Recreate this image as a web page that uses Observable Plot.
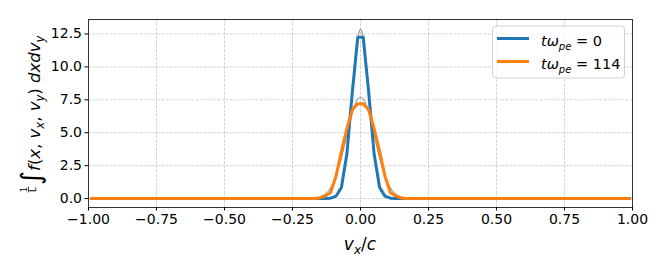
<!DOCTYPE html>
<html><head><meta charset="utf-8">
<script src="https://cdn.jsdelivr.net/npm/d3@7"></script>
<script src="https://cdn.jsdelivr.net/npm/@observablehq/plot@0.6"></script>
<style>body{margin:0;background:#fff} svg{font-family:"DejaVu Sans"}</style>
</head><body><div id="chart"></div>
<script>
const xTicks = [-1, -0.75, -0.5, -0.25, 0, 0.25, 0.5, 0.75, 1];
const xTickLabels = ["−1.00", "−0.75", "−0.50", "−0.25", "0.00", "0.25", "0.50", "0.75", "1.00"];
const yTicks = [0, 2.5, 5, 7.5, 10, 12.5];
const yTickLabels = ["0.0", "2.5", "5.0", "7.5", "10.0", "12.5"];

const seriesNames = ["0", "114"];
const seriesColors = ["#1f77b4", "#ff7f0e"];

const vxBlue = [-0.99, -0.13, -0.11, -0.09, -0.07, -0.05, -0.03, -0.01, 0.01, 0.03, 0.05, 0.07, 0.09, 0.11, 0.13, 0.99];
const fBlue  = [0, 0, 0.03, 0.18, 0.85, 3.4, 8.1, 12.25, 12.25, 8.1, 3.4, 0.85, 0.18, 0.03, 0, 0];

const vxOrange = [-0.99, -0.19, -0.17, -0.15, -0.13, -0.11, -0.09, -0.07, -0.05, -0.03, -0.01, 0.01, 0.03, 0.05, 0.07, 0.09, 0.11, 0.13, 0.15, 0.17, 0.19, 0.99];
const fOrange  = [0, 0, 0.01, 0.05, 0.2, 0.45, 1.7, 3.6, 5.3, 6.75, 7.2, 7.2, 6.75, 5.3, 3.6, 1.7, 0.45, 0.2, 0.05, 0.01, 0, 0];

const vxGray = [-0.20, -0.19, -0.18, -0.17, -0.16, -0.15, -0.14, -0.13, -0.12, -0.11, -0.10, -0.09, -0.08, -0.07, -0.06, -0.05, -0.04, -0.03, -0.02, -0.01, 0,
                 0.01, 0.02, 0.03, 0.04, 0.05, 0.06, 0.07, 0.08, 0.09, 0.10, 0.11, 0.12, 0.13, 0.14, 0.15, 0.16, 0.17, 0.18, 0.19, 0.20];
const fGray0 = [0, 0, 0, 0, 0, 0, 0, 0.002, 0.007, 0.024, 0.071, 0.19, 0.46, 1.00, 1.98, 3.51, 5.60, 8.06, 10.45, 12.22, 12.87,
                12.22, 10.45, 8.06, 5.60, 3.51, 1.98, 1.00, 0.46, 0.19, 0.071, 0.024, 0.007, 0.002, 0, 0, 0, 0, 0, 0, 0];
const fGray114 = [0.004, 0.009, 0.018, 0.035, 0.065, 0.12, 0.20, 0.33, 0.53, 0.81, 1.20, 1.70, 2.34, 3.09, 3.94, 4.83, 5.72, 6.51, 7.15, 7.56, 7.70,
                  7.56, 7.15, 6.51, 5.72, 4.83, 3.94, 3.09, 2.34, 1.70, 1.20, 0.81, 0.53, 0.33, 0.20, 0.12, 0.065, 0.035, 0.018, 0.009, 0.004];

const blue = vxBlue.map((x, i) => ({x, y: fBlue[i]}));
const orange = vxOrange.map((x, i) => ({x, y: fOrange[i]}));
const gray0 = vxGray.map((x, i) => ({x, y: fGray0[i]}));
const gray114 = vxGray.map((x, i) => ({x, y: fGray114[i]}));

const gridStyle = {stroke: "#b0b0b0", strokeOpacity: 0.7, strokeDasharray: "3,1.3", strokeWidth: 0.8};

const svg = Plot.plot({
  width: 664, height: 266,
  marginLeft: 88, marginRight: 32, marginTop: 19, marginBottom: 59,
  style: {fontFamily: "DejaVu Sans", fontSize: "14px", color: "#000", background: "#fff", overflow: "visible"},
  x: {domain: [-1, 1]},
  y: {domain: [-0.68, 13.6]},
  marks: [
    Plot.gridX(xTicks, gridStyle),
    Plot.gridY(yTicks, gridStyle),
    Plot.line(gray0, {x: "x", y: "y", stroke: "#808080", strokeWidth: 1, curve: "catmull-rom"}),
    Plot.line(gray114, {x: "x", y: "y", stroke: "#808080", strokeWidth: 1, curve: "catmull-rom"}),
    Plot.line(blue, {x: "x", y: "y", stroke: seriesColors[0], strokeWidth: 3}),
    Plot.line(orange, {x: "x", y: "y", stroke: seriesColors[1], strokeWidth: 3}),
    Plot.frame({stroke: "#333", strokeWidth: 1}),
    Plot.axisX(xTicks, {tickFormat: d => xTickLabels[xTicks.indexOf(d)], tickSize: 3.5, tickPadding: 3, fontSize: 14, label: null}),
    Plot.axisY(yTicks, {tickFormat: d => yTickLabels[yTicks.indexOf(d)], tickSize: 3.5, tickPadding: 3, fontSize: 14, label: null})
  ]
});
document.getElementById("chart").appendChild(svg);

const S = d3.select(svg);

// y label
const gy = S.append("g").attr("transform", "translate(40,113) rotate(-90)")
  .style("font-family", "DejaVu Sans").style("font-size", "16.5px").attr("fill", "#000");
gy.append("text").attr("x", -76.5).attr("y", -13.5).attr("text-anchor", "middle").style("font-size", "8.5px").text("1");
gy.append("text").attr("x", -76.5).attr("y", -4.5).attr("text-anchor", "middle").style("font-size", "8.5px").text("L");
gy.append("line").attr("x1", -79.5).attr("x2", -73.5).attr("y1", -11.5).attr("y2", -11.5).attr("stroke", "#000").attr("stroke-width", 0.7);
const ty = gy.append("text").attr("x", -72).attr("y", 0).attr("text-anchor", "start");
const parts = [
  ["∫", "normal", 0, 27],
  ["f", "italic", 0, 16.5], ["(", "normal", 0, 16.5], ["x", "italic", 0, 16.5], [", ", "normal", 0, 16.5],
  ["v", "italic", 0, 16.5], ["x", "italic", 1, 11.5], [", ", "normal", 0, 16.5],
  ["v", "italic", 0, 16.5], ["y", "italic", 1, 11.5], [")", "normal", 0, 16.5],
  [" dxdv", "italic", 0, 16.5], ["y", "italic", 1, 11.5]
];
let prevSub = 0;
for (const [s, st, sub, fs] of parts) {
  const dy = (sub ? 4 : 0) - (prevSub ? 4 : 0);
  ty.append("tspan").attr("dy", dy).style("font-style", st).style("font-size", fs + "px").text(s);
  prevSub = sub;
}

// x label
const tx = S.append("text").attr("x", 360).attr("y", 250).attr("text-anchor", "middle")
  .style("font-family", "DejaVu Sans").style("font-size", "17px").attr("fill", "#000");
tx.append("tspan").style("font-style", "italic").text("v");
tx.append("tspan").style("font-style", "italic").style("font-size", "12px").attr("dy", 4).text("x");
tx.append("tspan").attr("dy", -4).text("/");
tx.append("tspan").style("font-style", "italic").text("c");

// legend
const lg = S.append("g").style("font-family", "DejaVu Sans");
lg.append("rect").attr("x", 492.5).attr("y", 26).attr("width", 132).attr("height", 52).attr("rx", 3)
  .attr("fill", "#fff").attr("fill-opacity", 0.8).attr("stroke", "#d0d0d0");
seriesNames.forEach((name, i) => {
  const y = 38.5 + i * 23;
  lg.append("line").attr("x1", 497).attr("x2", 529).attr("y1", y).attr("y2", y)
    .attr("stroke", seriesColors[i]).attr("stroke-width", 3);
  const t = lg.append("text").attr("x", 541).attr("y", y + 7.5).attr("text-anchor", "start")
    .style("font-size", "14.5px").attr("fill", "#000");
  t.append("tspan").style("font-style", "italic").text("tω");
  t.append("tspan").style("font-style", "italic").style("font-size", "10px").attr("dy", 3.5).text("pe");
  t.append("tspan").attr("dy", -3.5).text(" = " + name);
});
</script>
</body></html>
